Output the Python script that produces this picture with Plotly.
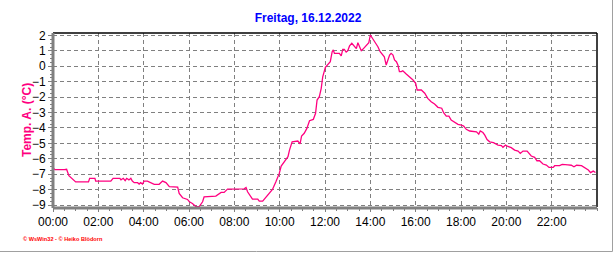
import plotly.graph_objects as go

# minutes after midnight
minutes = [0, 5, 30, 36, 42, 51, 60, 94, 97, 111, 113, 153, 159, 177, 180, 186, 191, 195, 201, 206,
           210, 215, 224, 228, 232, 237, 241, 250, 259, 268, 281, 290, 299, 308, 330, 334, 343, 352,
           356, 361, 369, 378, 387, 396, 400, 431, 445, 453, 462, 506, 511, 515, 528, 542, 546, 555,
           564, 573, 581, 590, 599, 604, 612, 618, 622, 626, 633, 648, 654, 658, 665, 672, 679, 689,
           695, 699, 705, 710, 714, 721, 727, 734, 739, 742, 745, 758, 763, 767, 771, 776, 780, 785,
           791, 798, 803, 807, 811, 816, 820, 829, 836, 840, 844, 851, 860, 866, 873, 877, 882, 886,
           891, 895, 900, 904, 909, 913, 917, 922, 926, 935, 944, 953, 960, 964, 975, 984, 992, 1001,
           1010, 1019, 1029, 1034, 1041, 1048, 1054, 1063, 1072, 1081, 1087, 1094, 1103, 1121, 1127,
           1131, 1138, 1143, 1149, 1156, 1166, 1178, 1187, 1191, 1198, 1204, 1213, 1222, 1231, 1237,
           1244, 1255, 1260, 1266, 1275, 1281, 1288, 1297, 1306, 1313, 1324, 1328, 1341, 1348, 1363,
           1372, 1379, 1386, 1399, 1408, 1417, 1423, 1430, 1436]
temps = [-6.6, -6.7, -6.7, -6.68, -7.1, -7.3, -7.5, -7.5, -7.27, -7.27, -7.45, -7.45, -7.27, -7.27,
         -7.37, -7.27, -7.42, -7.27, -7.37, -7.27, -7.45, -7.55, -7.55, -7.64, -7.55, -7.64, -7.45,
         -7.45, -7.55, -7.66, -7.66, -7.45, -7.55, -7.81, -7.84, -8.25, -8.53, -8.58, -8.64, -8.79,
         -8.9, -9.1, -9.1, -8.79, -8.47, -8.42, -8.18, -8.18, -7.97, -7.95, -7.86, -8.14, -8.62,
         -8.62, -8.75, -8.75, -8.51, -8.25, -7.99, -7.49, -6.95, -6.47, -6.19, -6.05, -5.87, -5.44,
         -4.9, -4.85, -5.04, -4.52, -4.35, -4.03, -3.53, -3.45, -3.05, -2.19, -1.97, -1.43, -0.68,
         -0.07, 0.08, 0.3, 0.95, 1.06, 0.84, 0.84, 0.67, 1.1, 1.1, 0.92, 1.0, 1.32, 1.49, 1.27, 1.15,
         1.53, 1.27, 1.01, 1.1, 1.32, 1.53, 2.03, 1.88, 1.6, 1.27, 0.95, 0.73, 0.62, 0.08, 0.41,
         0.73, 0.84, 0.73, 0.41, 0.3, 0.08, -0.35, -0.35, -0.29, -0.5, -0.68, -0.89, -1.1, -1.54,
         -1.54, -1.75, -2.08, -2.3, -2.45, -2.66, -2.72, -3.01, -3.23, -3.23, -3.49, -3.64, -3.77,
         -3.81, -3.88, -4.09, -4.2, -4.25, -4.4, -4.2, -4.3, -4.47, -4.75, -4.9, -4.96, -5.11,
         -5.15, -5.26, -5.11, -5.2, -5.28, -5.44, -5.5, -5.65, -5.5, -5.5, -5.65, -5.82, -5.91,
         -6.13, -6.13, -6.34, -6.41, -6.56, -6.56, -6.45, -6.45, -6.37, -6.4, -6.42, -6.52, -6.42,
         -6.45, -6.58, -6.73, -6.9, -6.8, -6.89]

x_tick_vals = [0, 120, 240, 360, 480, 600, 720, 840, 960, 1080, 1200, 1320]
x_tick_text = ["00:00", "02:00", "04:00", "06:00", "08:00", "10:00", "12:00",
               "14:00", "16:00", "18:00", "20:00", "22:00"]
y_tick_vals = [2, 1, 0, -1, -2, -3, -4, -5, -6, -7, -8, -9]

title_text = "Freitag, 16.12.2022"
y_title = "Temp. A. (°C)"
footer = "© WsWin32 - © Heiko Blödorn"

FONT = "Liberation Sans, Arial, sans-serif"
W, H = 616, 253
ML, MR, MT, MB = 53, 19, 33, 46

fig = go.Figure()
fig.add_trace(go.Scatter(x=minutes, y=temps, mode="lines",
                         line=dict(color="#FF0080", width=1.3), hoverinfo="skip"))

fig.update_layout(
    width=W, height=H,
    margin=dict(l=ML, r=MR, t=MT, b=MB, pad=0),
    paper_bgcolor="white", plot_bgcolor="white",
    showlegend=False,
    font=dict(family=FONT, size=12, color="black"),
    title=dict(text="<b>" + title_text + "</b>", x=0.5, xref="container", xanchor="center",
               y=1 - 18 / H, yref="container", yanchor="middle",
               font=dict(family=FONT, size=12, color="#0000FF")),
)

fig.update_xaxes(
    range=[0, 1440], tickvals=x_tick_vals, ticktext=x_tick_text,
    showgrid=True, gridcolor="#808080", griddash="4px,3px", gridwidth=1,
    ticks="outside", ticklen=4, tickcolor="#808080", tickwidth=1,
    minor=dict(dtick=30, tick0=0, ticks="outside", ticklen=3, tickcolor="#808080", showgrid=False),
    showline=False, zeroline=False,
    tickfont=dict(family=FONT, size=12, color="black"),
)
fig.update_yaxes(
    range=[-9.13, 2.16], tickvals=y_tick_vals,
    showgrid=True, gridcolor="#808080", griddash="4px,3px", gridwidth=1,
    ticks="outside", ticklen=4, tickcolor="#808080", tickwidth=1,
    minor=dict(dtick=0.25, tick0=0, ticks="outside", ticklen=2, tickcolor="#808080", showgrid=False),
    showline=False, zeroline=False,
    tickfont=dict(family=FONT, size=12, color="black"),
)

# plot frame: black top/right, thick gray left/bottom
fig.add_shape(type="line", xref="paper", yref="paper", x0=0, x1=1, y0=1, y1=1,
              line=dict(color="black", width=1.5), layer="above")
fig.add_shape(type="line", xref="paper", yref="paper", x0=1, x1=1, y0=0, y1=1,
              line=dict(color="black", width=1.5), layer="above")
fig.add_shape(type="line", xref="paper", yref="paper", x0=0, x1=0, y0=-0.006, y1=1,
              line=dict(color="#808080", width=3), layer="above")
fig.add_shape(type="line", xref="paper", yref="paper", x0=0, x1=1, y0=-0.006, y1=-0.006,
              line=dict(color="#808080", width=3), layer="above")

# outer image frame (right and bottom)
pw = W - ML - MR
ph = H - MT - MB
yb = (H - 251.5 - MB) / ph
fig.add_shape(type="line", xref="paper", yref="paper",
              x0=(612.5 - ML) / pw, x1=(612.5 - ML) / pw, y0=yb, y1=(H - MB) / ph + 0.2,
              line=dict(color="#A0A0A0", width=1), layer="above")
fig.add_shape(type="line", xref="paper", yref="paper",
              x0=-ML / pw, x1=(612.5 - ML) / pw, y0=yb, y1=yb,
              line=dict(color="#A0A0A0", width=1), layer="above")

fig.add_annotation(text="<b>" + y_title + "</b>", textangle=-90,
                   xref="paper", yref="paper", x=(27 - ML) / pw, y=0.5,
                   xanchor="center", yanchor="middle", showarrow=False,
                   font=dict(family=FONT, size=12, color="#FF0080"))
fig.add_annotation(text="<b>" + footer + "</b>", xref="paper", yref="paper",
                   x=(21 - ML) / pw, y=(H - 238.5 - MB) / ph, xanchor="left", yanchor="middle",
                   showarrow=False, font=dict(family=FONT, size=5.6, color="#FF0000"))

fig.write_html("out.html")
